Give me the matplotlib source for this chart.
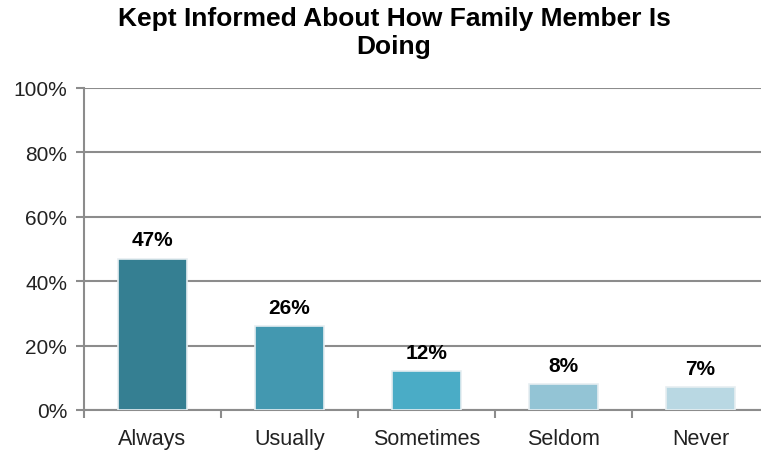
import matplotlib.pyplot as plt
from matplotlib.ticker import FixedLocator

categories = ["Always", "Usually", "Sometimes", "Seldom", "Never"]
values = [47, 26, 12, 8, 7]
colors = ["#357f92", "#4398b0", "#4aacc6", "#93c4d5", "#b9d8e3"]
yticks = [0, 20, 40, 60, 80, 100]

plt.rcParams["font.family"] = ["Liberation Sans", "DejaVu Sans"]
grid_col = "#8c8c8c"

fig = plt.figure(figsize=(7.61, 4.52), dpi=100)
ax = fig.add_axes([84 / 761, 41 / 452, 685 / 761, 322 / 452])

x = range(len(categories))
bars = ax.bar(x, values, width=0.5, color=colors, edgecolor="#e6eef1",
              linewidth=1.2, zorder=3)

for b, v in zip(bars, values):
    ax.annotate(f"{v}%", (b.get_x() + b.get_width() / 2, v),
                xytext=(0, 7), textcoords="offset points",
                ha="center", va="bottom", fontsize=15, fontweight="bold")

ax.set_xlim(-0.5, len(categories) - 0.5)
ax.set_ylim(0, 100)
ax.set_yticks(yticks)
ax.set_yticklabels([f"{t}%" for t in yticks], fontsize=15, color="#222222")
ax.set_xticks(list(x))
ax.set_xticklabels(categories, fontsize=15.5, color="#222222")
ax.tick_params(axis="x", length=0, pad=13)
ax.tick_params(axis="y", length=6, width=1.5, color=grid_col, pad=6)

# category separators on the x axis
ax.xaxis.set_minor_locator(FixedLocator([i + 0.5 for i in range(len(categories))] + [-0.5]))
ax.tick_params(axis="x", which="minor", length=6, width=1.5, color=grid_col)

ax.yaxis.grid(True, color=grid_col, linewidth=1.5, zorder=0)
ax.set_axisbelow(True)
for side in ["top", "right"]:
    ax.spines[side].set_visible(False)
for side in ["left", "bottom"]:
    ax.spines[side].set_color(grid_col)
    ax.spines[side].set_linewidth(1.5)

fig.text(394 / 761, 1 - 7 / 452, "Kept Informed About How Family Member Is\nDoing",
         ha="center", va="top", fontsize=19, fontweight="bold", linespacing=1.22)

fig.savefig("out.png", dpi=100)
